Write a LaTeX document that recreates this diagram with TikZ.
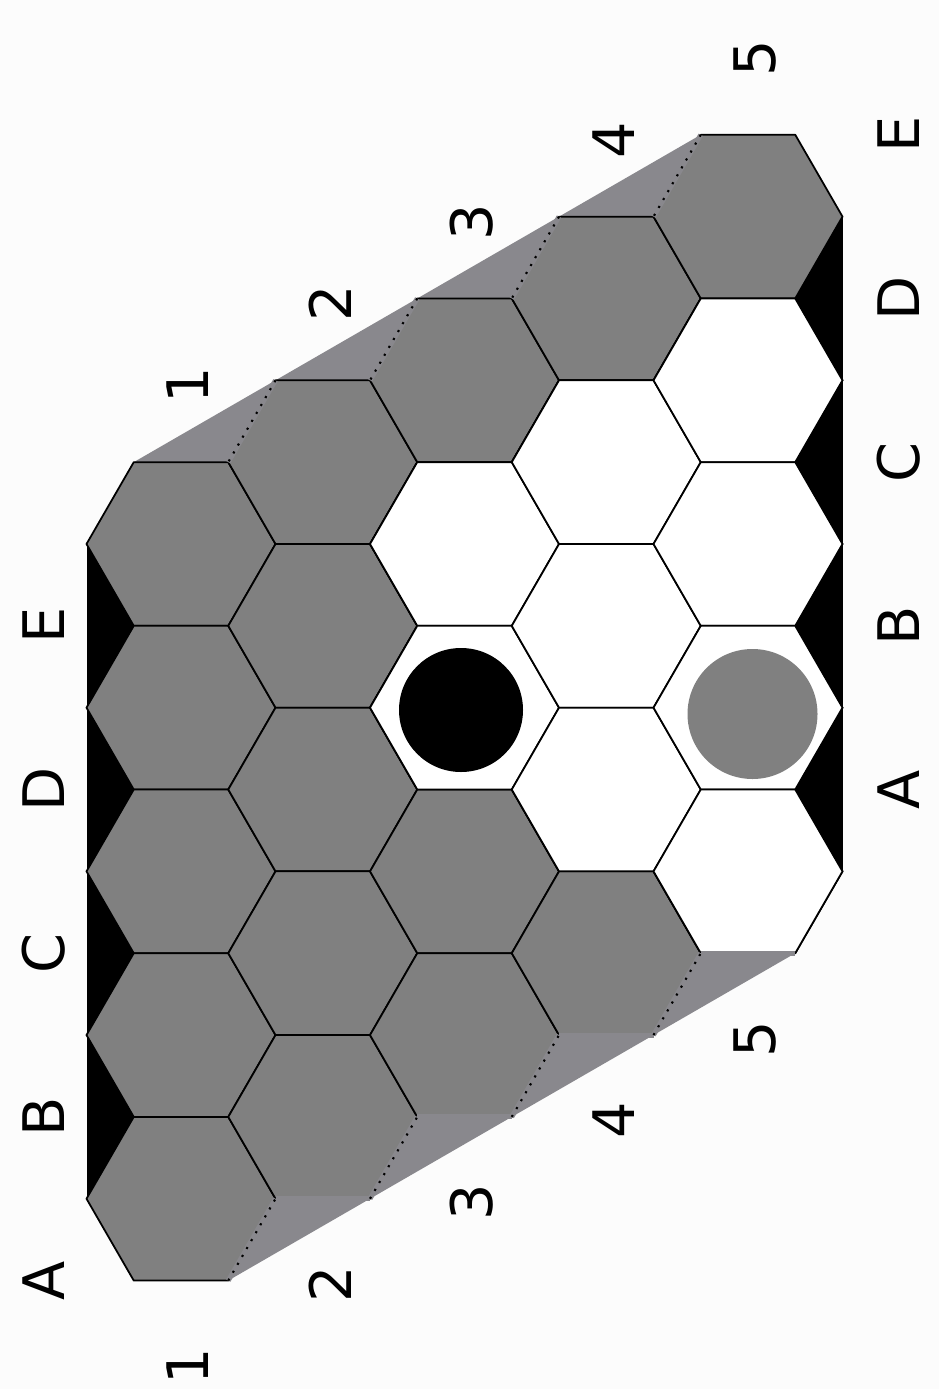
\documentclass[tikz,border=0pt]{standalone}
\usepackage{fontspec}
\setmainfont{DejaVu Sans}
\usetikzlibrary{calc}
\definecolor{cellgray}{RGB}{128,128,128}
\definecolor{rimgray}{RGB}{137,136,141}
\definecolor{paper}{RGB}{252,252,252}

\begin{document}
\begin{tikzpicture}[
  hexcell/.style={draw=black,line width=0.5pt,line join=round},
  rim/.style={draw=rimgray,line width=1.4pt},
  rimdots/.style={draw=black,line width=0.6pt,dotted,preaction={draw=rimgray,solid,line width=1.4pt}},
  stone/.style={circle,inner sep=0pt,minimum size=#1},
  edgelabel/.style={rotate=90,inner sep=0pt,font=\fontsize{16.3}{20}\selectfont}]
\def\R{0.945}
\useasboundingbox[fill=paper] (0,0) rectangle (9.39,-13.89);
% cell centres, column i, row j
\foreach \i in {0,...,4}
  \foreach \j in {0,...,4}
    \coordinate (c\i\j) at ({1.81+1.4175*\i},{-5.44+0.8184*\i-1.6368*\j});
% rims
\fill[rimgray] ($(c00)+(120:\R)$) -- ($(c40)+(120:\R)$) -- (c40) -- (c00) -- cycle;
\fill[rimgray] ($(c04)+(300:\R)$) -- ($(c44)+(300:\R)$) -- (c44) -- (c04) -- cycle;
\fill[black] ($(c00)+(180:\R)$) rectangle (c04);
\fill[black] (c40) rectangle ($(c44)+(0:\R)$);
% cells
\foreach \i in {0,...,4}
  \foreach \j in {0,...,4}
    \path[hexcell,fill=cellgray] (c\i\j) ++(0:\R) -- ++(120:\R) -- ++(180:\R) -- ++(240:\R) -- ++(300:\R) -- ++(0:\R) -- cycle;
\foreach \i/\j in {2/1,2/2,3/1,3/2,3/3,4/1,4/2,4/3,4/4}
  \path[hexcell,fill=white] (c\i\j) ++(0:\R) -- ++(120:\R) -- ++(180:\R) -- ++(240:\R) -- ++(300:\R) -- ++(0:\R) -- cycle;
% edges against the rims
\foreach \i in {1,...,4} {
  \draw[rimdots] ($(c\i0)+(120:\R)$) -- ($(c\i0)+(180:\R)$);
  \draw[rim] ($(c\i4)+(240:\R)$) -- ($(c\i4)+(300:\R)$);
}
\foreach \i in {0,...,3}
  \draw[rimdots] ($(c\i4)+(300:\R)$) -- ($(c\i4)+(0:\R)$);
% stones
\node[stone=1.24cm,fill=black] (blackstone) at (4.61,-7.10) {};
\node[stone=1.30cm,fill=cellgray] (greystone) at (7.525,-7.14) {};
% labels
\foreach \j/\l in {0/E,1/D,2/C,3/B,4/A} {
  \node[edgelabel] (left\l) at ($(c0\j)+(-1.37,-0.818)$) {\l};
  \node[edgelabel] (right\l) at ($(c4\j)+(1.51,0.818)$) {\l};
}
\foreach \i [count=\n from 1] in {0,...,4} {
  \node[edgelabel] (top\n) at ($(c\i0)+(0.07,1.585)$) {\n};
  \node[edgelabel] (bot\n) at ($(c\i4)+(0.07,-1.675)$) {\n};
}
\end{tikzpicture}
\end{document}
